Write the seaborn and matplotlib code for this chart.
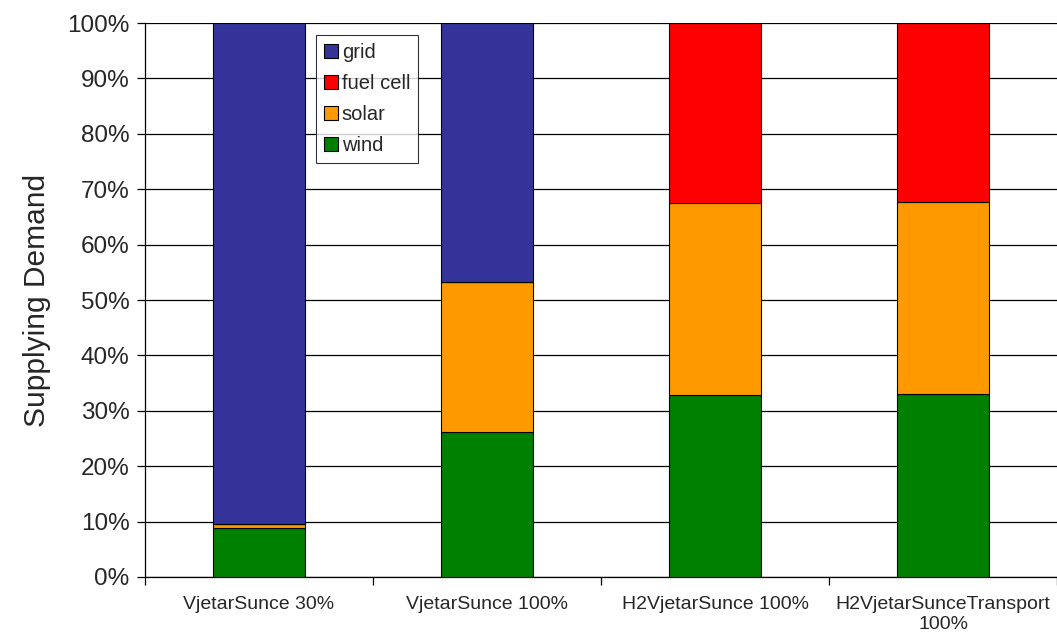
import matplotlib
matplotlib.use("Agg")
import matplotlib.pyplot as plt
import seaborn as sns
import pandas as pd
import numpy as np
from matplotlib.patches import Patch
from matplotlib.ticker import PercentFormatter

categories = ["VjetarSunce 30%", "VjetarSunce 100%", "H2VjetarSunce 100%", "H2VjetarSunceTransport\n100%"]
wind = [8.8, 26.2, 32.9, 33.0]
solar = [0.7, 27.0, 34.6, 34.7]
fuel_cell = [0.0, 0.0, 32.5, 32.3]
grid = [90.5, 46.8, 0.0, 0.0]

series = [("wind", wind, "#008000"), ("solar", solar, "#FF9900"),
          ("fuel cell", fuel_cell, "#FF0000"), ("grid", grid, "#333399")]

sns.set_style("white")
plt.rcParams["font.family"] = ["Liberation Sans", "DejaVu Sans"]

fig = plt.figure(figsize=(10.57, 6.36), dpi=100)
ax = fig.add_axes([0.1372, 0.0928, 0.8628, 0.871])

bottom = np.zeros(len(categories))
for name, vals, col in series:
    df = pd.DataFrame({"cat": categories, "val": vals})
    sns.barplot(data=df, x="cat", y="val", color=col, width=0.4, bottom=bottom,
                saturation=1, edgecolor="black", linewidth=0.8, ax=ax, zorder=3)
    bottom = bottom + np.array(vals)

ax.set_ylim(0, 100)
ax.set_xlim(-0.5, 3.5)
ax.set_yticks(np.arange(0, 101, 10))
ax.yaxis.set_major_formatter(PercentFormatter(decimals=0))
ax.grid(axis="y", color="black", linewidth=0.9, zorder=0)
ax.set_axisbelow(True)
for s in ["top", "right"]:
    ax.spines[s].set_visible(False)
for s in ["left", "bottom"]:
    ax.spines[s].set_color("black")
    ax.spines[s].set_linewidth(0.9)

ax.tick_params(axis="y", which="major", direction="out", length=6, width=0.9,
               labelsize=17.5, left=True, color="black", pad=5)
ax.tick_params(axis="x", which="major", length=0, labelsize=14, pad=14)
ax.set_xticks(np.arange(-0.5, 3.6, 1.0), minor=True)
ax.tick_params(axis="x", which="minor", direction="out", length=6, width=0.9, bottom=True, color="black")
ax.set_xlabel("")
ax.set_ylabel("Supplying Demand", fontsize=21.5, labelpad=12)

handles = [Patch(facecolor=c, edgecolor="black", linewidth=0.8, label=n)
           for n, _, c in reversed(series)]
leg = ax.legend(handles=handles, loc="upper left", bbox_to_anchor=(0.187, 0.979),
                fontsize=14.5, frameon=True, fancybox=False, edgecolor="black",
                handlelength=0.7, handleheight=0.7, handletextpad=0.2,
                borderpad=0.4, labelspacing=0.6, borderaxespad=0)
leg.get_frame().set_linewidth(0.8)

fig.savefig("out.png", dpi=100)
